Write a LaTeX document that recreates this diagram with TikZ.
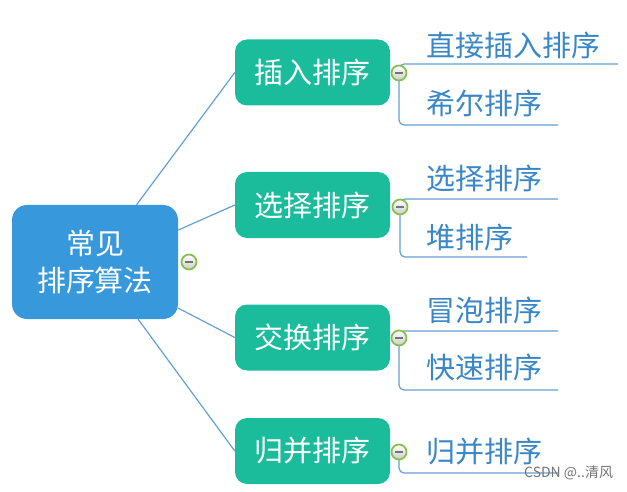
\documentclass[tikz,border=0pt]{standalone}
\usepackage{fontspec}
\setmainfont{Noto Sans CJK SC}
\usetikzlibrary{backgrounds}
\definecolor{cblue}{RGB}{55,152,219}
\definecolor{cgreen}{RGB}{26,188,156}
\definecolor{cline}{RGB}{100,160,215}
\definecolor{ctext}{RGB}{58,135,200}
\definecolor{cring}{RGB}{134,190,75}
\begin{document}
\begin{tikzpicture}[x=1pt,y=-1pt,
 rootbox/.style={fill=cblue, rounded corners=15pt, minimum width=166pt, minimum height=114pt, text=white, align=center, font=\fontsize{29}{37}\selectfont, inner sep=0pt},
 catbox/.style={fill=cgreen, rounded corners=12pt, minimum width=155pt, minimum height=66pt, text=white, font=\fontsize{29}{34}\selectfont, inner sep=0pt},
 leaf/.style={anchor=west, inner sep=0pt, text=ctext, font=\fontsize{29}{34}\selectfont},
 link/.style={draw=cline, line width=1.2pt},
 knob/.style={circle, draw=cring, line width=1.7pt, minimum size=15pt, inner sep=0pt, top color=white, bottom color=black!20,
   path picture={\draw[black!55, line width=1.5pt] ([xshift=-3.8pt]path picture bounding box.center) -- ([xshift=3.8pt]path picture bounding box.center);}},
]
\useasboundingbox (0,0) rectangle (627,492);

\node[rootbox] (root) at (95,262) {常见\\排序算法};
\node[catbox] (c1) at (312.5,72.5) {插入排序};
\node[catbox] (c2) at (312.5,205) {选择排序};
\node[catbox] (c3) at (312.5,337.5) {交换排序};
\node[catbox] (c4) at (312.5,451) {归并排序};

\node[knob] (k0) at (189,262) {};
\node[knob] (k1) at (399,73) {};
\node[knob] (k2) at (400,207) {};
\node[knob] (k3) at (399,338) {};
\node[knob] (k4) at (399,452) {};

\node[leaf] (l11) at (426,45) {直接插入排序};
\node[leaf] (l12) at (426,103) {希尔排序};
\node[leaf] (l21) at (426,178) {选择排序};
\node[leaf] (l22) at (426,237) {堆排序};
\node[leaf] (l31) at (426,310) {冒泡排序};
\node[leaf] (l32) at (426,367) {快速排序};
\node[leaf] (l41) at (426,452) {归并排序};

\coordinate (e11) at (618,64);
\coordinate (e12) at (558,125);
\coordinate (e21) at (558,199);
\coordinate (e22) at (527,257);
\coordinate (e31) at (558,331);
\coordinate (e32) at (558,390);
\coordinate (e41) at (558,473);

\begin{scope}[on background layer]
\fill[white] (0,0) rectangle (627,492);
\draw[link] (root.54.6) -- (c1.west);
\draw[link] (root.21.7) -- (c2.west);
\draw[link] (root.-29) -- (c3.west);
\draw[link] (root.-53.6) -- (c4.west);
\draw[link, rounded corners=5pt] (k1.center) |- (e11);
\draw[link, rounded corners=5pt] (k1.center) |- (e12);
\draw[link, rounded corners=5pt] (k2.center) |- (e21);
\draw[link, rounded corners=5pt] (k2.center) |- (e22);
\draw[link, rounded corners=5pt] (k3.center) |- (e31);
\draw[link, rounded corners=5pt] (k3.center) |- (e32);
\draw[link, rounded corners=5pt] (k4.center) |- (e41);
\end{scope}

\node[anchor=west, inner sep=0pt, text=black!55, font=\fontsize{14}{16}\selectfont] (wm) at (524,473) {CSDN @..清风};
\end{tikzpicture}
\end{document}
